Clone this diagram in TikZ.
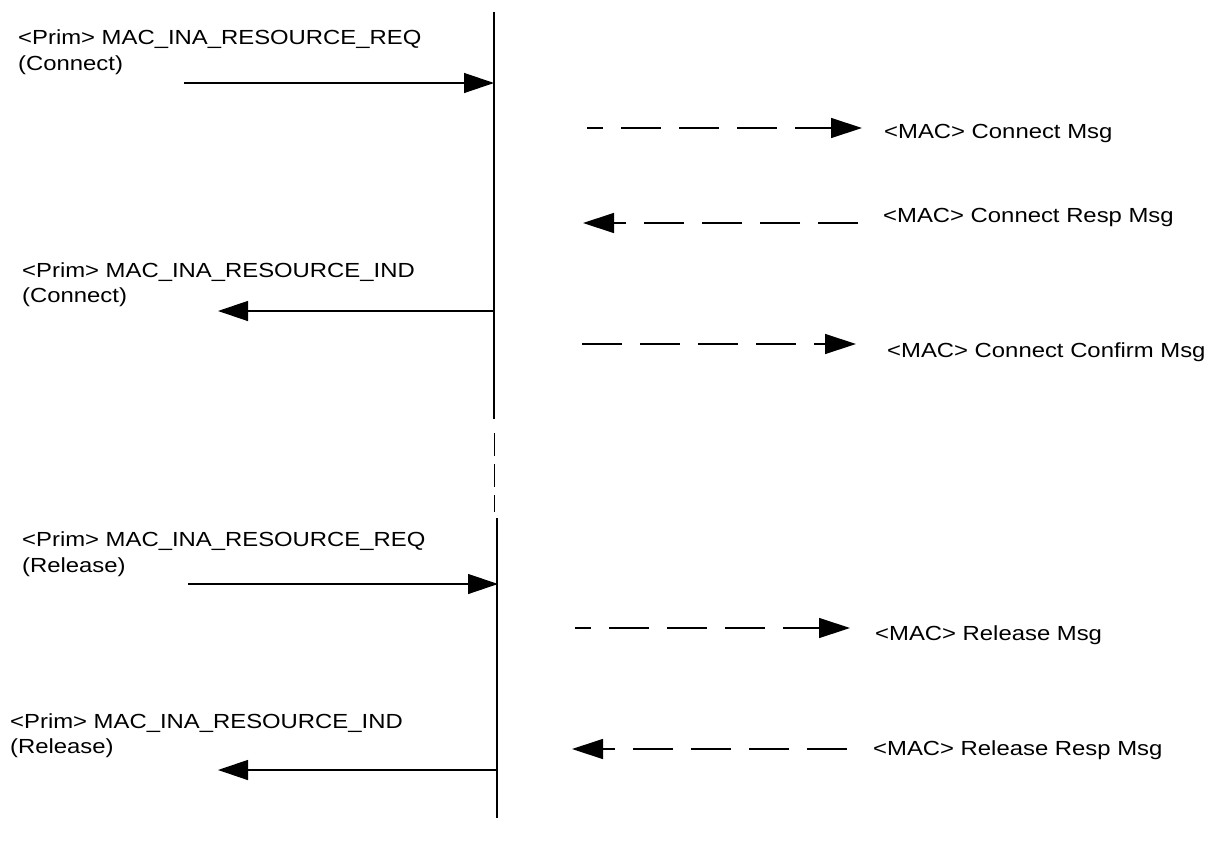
\documentclass[tikz,border=0pt]{standalone}
\usepackage{fontspec}
\setmainfont{Liberation Sans}[FakeStretch=1.17]
\usetikzlibrary{arrows.meta}
\begin{document}
\begin{tikzpicture}[x=1pt,y=-1pt,
  lbl/.style={anchor=base west, inner sep=0pt, font=\fontsize{20.4}{24}\selectfont},
  solidarrow/.style={line width=1.3pt, -{Triangle[length=30pt,width=20pt]}},
  dasharrow/.style={line width=1.3pt, dash pattern=on 40pt off 18pt, -{Triangle[length=31pt,width=20pt]}},
  life/.style={line width=1.5pt}]
\useasboundingbox (0,0) rectangle (1210,846);

% lifeline
\coordinate (l1t) at (494,12);
\coordinate (l1b) at (494,419);
\coordinate (ldt) at (494.5,433);
\coordinate (ldb) at (494.5,512);
\coordinate (l2t) at (497,518);
\coordinate (l2b) at (497,818);
\draw[life] (l1t) -- (l1b);
\draw[life, dash pattern=on 23pt off 8pt] (ldt) -- (ldb);
\draw[life] (l2t) -- (l2b);

% left labels
\node[lbl] (req1a) at (18,44) {<Prim> MAC\_INA\_RESOURCE\_REQ};
\node[lbl] (req1b) at (18,70) {(Connect)};
\node[lbl] (ind1a) at (22,277) {<Prim> MAC\_INA\_RESOURCE\_IND};
\node[lbl] (ind1b) at (22,302) {(Connect)};
\node[lbl] (req2a) at (22,546) {<Prim> MAC\_INA\_RESOURCE\_REQ};
\node[lbl] (req2b) at (22,572) {(Release)};
\node[lbl] (ind2a) at (10,728) {<Prim> MAC\_INA\_RESOURCE\_IND};
\node[lbl] (ind2b) at (10,753) {(Release)};

% right labels
\node[lbl] (cm) at (884,138) {<MAC> Connect Msg};
\node[lbl] (cr) at (883,222) {<MAC> Connect Resp Msg};
\node[lbl] (cc) at (887,357) {<MAC> Connect Confirm Msg};
\node[lbl] (rm) at (875,640) {<MAC> Release Msg};
\node[lbl] (rr) at (873,755) {<MAC> Release Resp Msg};

% solid primitive arrows
\coordinate (a1s) at (184,83);  \coordinate (a1e) at (494,83);
\coordinate (a2s) at (493,311); \coordinate (a2e) at (218,311);
\coordinate (a3s) at (188,584); \coordinate (a3e) at (498,584);
\coordinate (a4s) at (497,770); \coordinate (a4e) at (218,770);
\draw[solidarrow] (a1s) -- (a1e);
\draw[solidarrow] (a2s) -- (a2e);
\draw[solidarrow] (a3s) -- (a3e);
\draw[solidarrow] (a4s) -- (a4e);

% dashed MAC message arrows
\coordinate (m1s) at (587,128); \coordinate (m1e) at (862,128);
\coordinate (m2s) at (858,223); \coordinate (m2e) at (583,223);
\coordinate (m3s) at (582,344); \coordinate (m3e) at (856,344);
\coordinate (m4s) at (575,628); \coordinate (m4e) at (850,628);
\coordinate (m5s) at (847,749); \coordinate (m5e) at (572,749);
\draw[dasharrow, dash phase=24pt] (m1s) -- (m1e);
\draw[dasharrow] (m2s) -- (m2e);
\draw[dasharrow] (m3s) -- (m3e);
\draw[dasharrow, dash phase=24pt] (m4s) -- (m4e);
\draw[dasharrow] (m5s) -- (m5e);
\end{tikzpicture}
\end{document}
